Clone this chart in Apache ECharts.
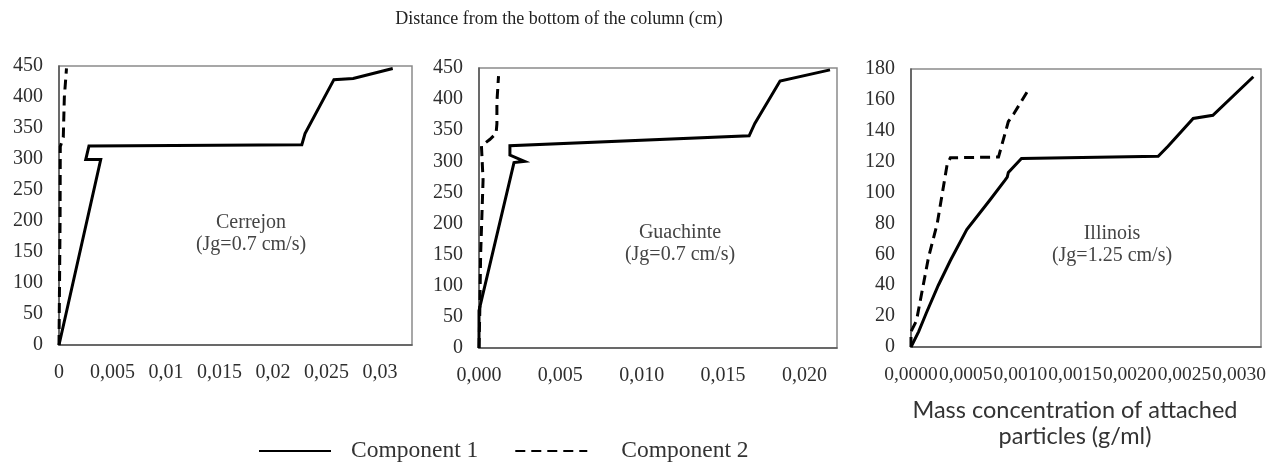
<!DOCTYPE html>
<html>
<head>
<meta charset="utf-8">
<title>Attached particle concentration profiles</title>
<script src="https://cdn.jsdelivr.net/npm/echarts@6/dist/echarts.min.js"></script>
<style>
  html, body { margin: 0; padding: 0; background: #fff; }
  #chart { width: 1274px; height: 465px; }
</style>
</head>
<body>
<div id="chart"></div>
<script>
// Column profiles: [mass concentration (g/ml), distance from bottom (cm)]
const cerrejonC1 = [
  [0, 0], [0.0039, 299], [0.0025, 299], [0.0028, 321], [0.0227, 323],
  [0.0230, 341], [0.0257, 428], [0.0275, 430], [0.0312, 446]
];
const cerrejonC2 = [
  [0, 0], [0.00005, 100], [0.0001, 200], [0.00012, 320], [0.0004, 335],
  [0.0005, 400], [0.0007, 446]
];
const guachinteC1 = [
  [0, 0], [0, 60], [0.00215, 298], [0.0028, 300], [0.0019, 310],
  [0.0019, 325], [0.0166, 341], [0.01695, 361], [0.0185, 429], [0.02157, 447]
];
const guachinteC2 = [
  [0, 0], [0.00005, 60], [0.0001, 150], [0.0002, 230], [0.00025, 270],
  [0.00015, 325], [0.00066, 335], [0.00105, 345], [0.0011, 360],
  [0.0011, 395], [0.0012, 437]
];
const illinoisC1 = [
  [0, 0], [0.00007, 10], [0.00014, 22], [0.00025, 40], [0.00036, 56],
  [0.00051, 76], [0.00072, 95], [0.00086, 108], [0.00088, 110], [0.00089, 113],
  [0.00101, 122], [0.00226, 123.5], [0.00235, 130], [0.00258, 148],
  [0.00276, 150], [0.00313, 175]
];
const illinoisC2 = [
  [0, 0], [0, 10], [0.00005, 17], [0.00016, 58], [0.00024, 80], [0.00033, 118],
  [0.00036, 122.5], [0.0008, 123], [0.00089, 146], [0.00094, 151], [0.00106, 165]
];

// Axis ticks and their printed labels (decimal comma)
const cerrejonXTicks = [0, 0.005, 0.01, 0.015, 0.02, 0.025, 0.03];
const cerrejonXLabels = ['0', '0,005', '0,01', '0,015', '0,02', '0,025', '0,03'];
const guachinteXTicks = [0, 0.005, 0.01, 0.015, 0.02];
const guachinteXLabels = ['0,000', '0,005', '0,010', '0,015', '0,020'];
const illinoisXTicks = [0, 0.0005, 0.001, 0.0015, 0.002, 0.0025, 0.003];
const illinoisXLabels = ['0,0000', '0,0005', '0,0010', '0,0015', '0,0020', '0,0025', '0,0030'];

const seriesNames = ['Component 1', 'Component 2'];
const panelNames = ['Cerrejon\n(Jg=0.7 cm/s)', 'Guachinte\n(Jg=0.7 cm/s)', 'Illinois\n(Jg=1.25 cm/s)'];
const yTitle = 'Distance from the bottom of the column (cm)';
const xTitle = 'Mass concentration of attached\nparticles (g/ml)';

const SERIF = '"Liberation Serif", "Times New Roman", serif';
const chart = echarts.init(document.getElementById('chart'), null, { renderer: 'canvas' });

function labelFor(ticks, labels) {
  return function (v) {
    for (let i = 0; i < ticks.length; i++) {
      if (Math.abs(v - ticks[i]) < 1e-9) return labels[i];
    }
    return '';
  };
}

const grids = [
  { left: 59, top: 66, width: 353, height: 279 },
  { left: 479, top: 68, width: 358, height: 280 },
  { left: 911, top: 69, width: 350, height: 278 }
].map(g => Object.assign({ show: true, borderColor: '#8a8a8a', borderWidth: 1.5, backgroundColor: 'transparent' }, g));

const xSpecs = [
  { max: 0.033, interval: 0.005, ticks: cerrejonXTicks, labels: cerrejonXLabels, size: 20 },
  { max: 0.022, interval: 0.005, ticks: guachinteXTicks, labels: guachinteXLabels, size: 20 },
  { max: 0.0032, interval: 0.0005, ticks: illinoisXTicks, labels: illinoisXLabels, size: 19.5 }
];
const ySpecs = [
  { max: 450, interval: 50 },
  { max: 450, interval: 50 },
  { max: 180, interval: 20 }
];

const axisText = { fontFamily: SERIF, fontSize: 20, color: '#2e2e2e' };

const xAxes = xSpecs.map((s, i) => ({
  type: 'value', gridIndex: i, min: 0, max: s.max, interval: s.interval,
  axisLine: { show: true, lineStyle: { color: '#555', width: 1.5 } },
  axisTick: { show: false }, splitLine: { show: false },
  axisLabel: Object.assign({}, axisText, {
    fontSize: s.size, margin: 18, formatter: labelFor(s.ticks, s.labels),
    hideOverlap: false, showMinLabel: true
  })
}));
const yAxes = ySpecs.map((s, i) => ({
  type: 'value', gridIndex: i, min: 0, max: s.max, interval: s.interval,
  axisLine: { show: true, lineStyle: { color: '#555', width: 1.5 } },
  axisTick: { show: false }, splitLine: { show: false },
  axisLabel: Object.assign({ margin: 16 }, axisText)
}));

const profiles = [
  [cerrejonC1, cerrejonC2],
  [guachinteC1, guachinteC2],
  [illinoisC1, illinoisC2]
];
const series = [];
profiles.forEach((pair, i) => {
  pair.forEach((data, k) => {
    series.push({
      name: seriesNames[k], type: 'line', xAxisIndex: i, yAxisIndex: i,
      data: data, symbol: 'none', silent: true, animation: false,
      lineStyle: { color: '#000', width: 3, type: k === 0 ? 'solid' : [10, 6], cap: 'butt', join: 'miter' },
      itemStyle: { color: '#000' }
    });
  });
});

const labelCenters = [[251, 234], [680, 244], [1112, 245]];
const graphics = panelNames.map((t, i) => ({
  type: 'text', x: labelCenters[i][0], y: labelCenters[i][1], silent: true,
  style: { text: t, align: 'center', verticalAlign: 'middle', fontFamily: SERIF, fontSize: 20, lineHeight: 21.6, fill: '#444' }
}));
graphics.push({
  type: 'text', x: 559, y: 19, silent: true,
  style: { text: yTitle, align: 'center', verticalAlign: 'middle', fontFamily: SERIF, fontSize: 18, fill: '#222' }
});
graphics.push({
  type: 'text', x: 1075, y: 423, silent: true,
  style: { text: xTitle, align: 'center', verticalAlign: 'middle', fontFamily: 'Lato, "Open Sans", sans-serif', fontSize: 23.5, lineHeight: 26, fill: '#333' }
});

const legendText = { fontFamily: SERIF, fontSize: 23.5, color: '#333' };

chart.setOption({
  animation: false,
  grid: grids,
  xAxis: xAxes,
  yAxis: yAxes,
  series: series,
  legend: {
    data: [
      { name: seriesNames[0], textStyle: Object.assign({ padding: [0, 0, 0, 15] }, legendText) },
      { name: seriesNames[1], textStyle: Object.assign({ padding: [0, 0, 0, 29] }, legendText) }
    ],
    left: 258, top: 439, padding: 0, orient: 'horizontal',
    itemWidth: 72, itemHeight: 14, itemGap: 36, selectedMode: false,
    itemStyle: { opacity: 0 },
    textStyle: legendText
  },
  graphic: graphics
});
</script>
</body>
</html>
